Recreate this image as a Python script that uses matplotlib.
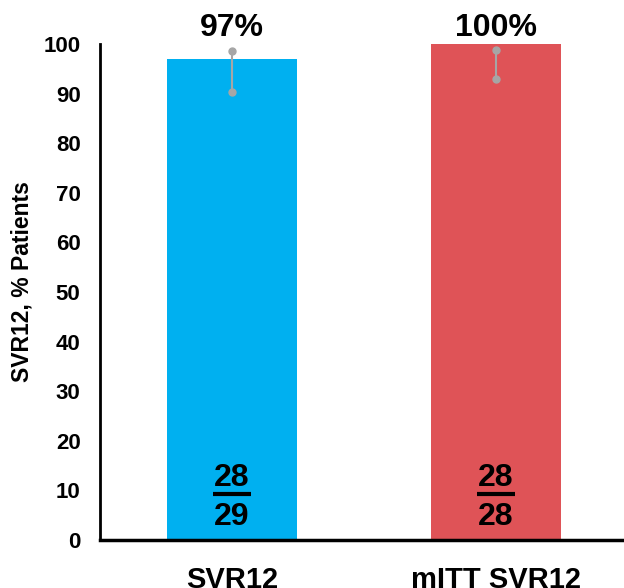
import matplotlib
matplotlib.use("Agg")
import matplotlib.pyplot as plt

categories = ["SVR12", "mITT SVR12"]
values = [97, 100]
value_labels = ["97%", "100%"]
err_low = [90.3, 92.9]
err_high = [98.5, 98.7]
numerators = ["28", "28"]
denominators = ["29", "28"]
colors = ["#00b0f0", "#df5357"]
yticks = [0, 10, 20, 30, 40, 50, 60, 70, 80, 90, 100]

plt.rcParams['font.family'] = ['Liberation Sans', 'DejaVu Sans']
plt.rcParams['font.weight'] = 'bold'

fig = plt.figure(figsize=(6.24, 5.88), dpi=100)
ax = fig.add_axes([100/624, 1-540/588, 524/624, (540-44)/588])

x = list(range(len(categories)))
ax.bar(x, values, width=0.49, color=colors, zorder=2)

for i in x:
    ax.plot([i, i], [err_low[i], err_high[i]], color="#a6a6a6", lw=1.5,
            marker="o", markersize=5, zorder=3)
    ax.text(i, 103.2, value_labels[i], ha="center", va="center",
            fontsize=23, fontweight="bold", clip_on=False)
    ax.text(i, 12.4, numerators[i], ha="center", va="center",
            fontsize=23, fontweight="bold", zorder=4)
    ax.plot([i-0.072, i+0.072], [9.3, 9.3], color="black", lw=3, zorder=4,
            solid_capstyle="butt")
    ax.text(i, 4.6, denominators[i], ha="center", va="center",
            fontsize=23, fontweight="bold", zorder=4)

ax.set_xlim(-0.5, 1.485)
ax.set_ylim(0, 100)
ax.set_yticks(yticks)
ax.set_yticklabels([str(t) for t in yticks], fontsize=16, fontweight="bold")
ax.set_xticks(x)
ax.set_xticklabels(categories, fontsize=21, fontweight="bold")
ax.tick_params(axis="both", length=0)
ax.tick_params(axis="y", pad=14)
ax.tick_params(axis="x", pad=19)
fig.text(22/624, 1-282/588, "SVR12, % Patients", rotation=90, ha="center",
         va="center", fontsize=16.5, fontweight="bold")

for s in ["top", "right"]:
    ax.spines[s].set_visible(False)
ax.spines["left"].set_linewidth(2)
ax.spines["bottom"].set_linewidth(2.5)

fig.savefig("out.png", dpi=100)
